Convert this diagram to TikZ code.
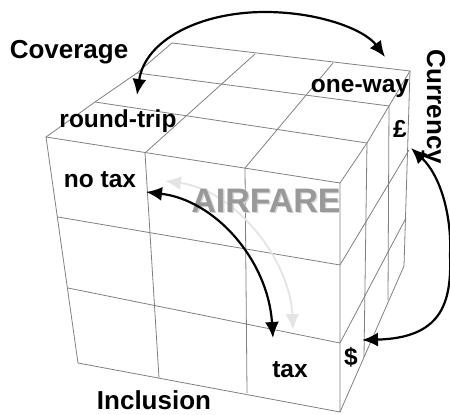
\documentclass[tikz,border=0pt]{standalone}
\usepackage{fontspec}
\setmainfont{Liberation Sans}
\usetikzlibrary{arrows.meta}
\definecolor{gridc}{HTML}{808080}
\definecolor{airc}{HTML}{999999}
\definecolor{airsh}{HTML}{D4D4D4}
\definecolor{lightarr}{HTML}{E4E4E4}
\tikzset{
  grid/.style={draw=gridc, line width=0.8pt},
  arr/.style={line width=2.2pt, {Latex[length=16pt,width=14pt]}-{Latex[length=16pt,width=14pt]}},
  biglab/.style={font=\bfseries\fontsize{26}{28}\selectfont, inner sep=0pt, anchor=base},
  cubelab/.style={font=\bfseries\fontsize{24.5}{26}\selectfont, inner sep=0pt, anchor=base},
  airlab/.style={font=\bfseries\fontsize{34}{36}\selectfont, inner sep=0pt, anchor=base}
}
\begin{document}
\begin{tikzpicture}[x=1pt,y=-1pt]
\useasboundingbox (0,0) rectangle (450,415);
% ---- front face
\coordinate (F00) at (46,137);  \coordinate (F03) at (340,183);
\coordinate (F10) at (58,217);  \coordinate (F13) at (340,265);
\coordinate (F20) at (68,288);  \coordinate (F23) at (340,343);
\coordinate (F30) at (78,363);  \coordinate (F33) at (340,412);
\coordinate (F01) at (145,153); \coordinate (F31) at (159,378);
\coordinate (F02) at (245,168); \coordinate (F32) at (247,393);
\draw[grid] (F00) -- (F03) -- (F33) -- (F30) -- cycle;
\draw[grid] (F10) -- (F13);
\draw[grid] (F20) -- (F23);
\draw[grid] (F01) -- (F31);
\draw[grid] (F02) -- (F32);
% ---- top face
\coordinate (T1L) at (95,102);  \coordinate (T1R) at (367,143);
\coordinate (T2L) at (137,73);  \coordinate (T2R) at (389,106);
\coordinate (T3L) at (172,43);  \coordinate (T3R) at (410,71);
\coordinate (T31) at (255,54);  \coordinate (T32) at (333,63);
\draw[grid] (F00) -- (T1L) -- (T2L) -- (T3L) -- (T3R) -- (T2R) -- (T1R) -- (F03);
\draw[grid] (T1L) -- (T1R);
\draw[grid] (T2L) -- (T2R);
\draw[grid] (F01) -- (T31);
\draw[grid] (F02) -- (T32);
% ---- right face
\coordinate (RBB) at (404,266);
\coordinate (RC1) at (364,357); \coordinate (RC2) at (388,300);
\coordinate (RR1) at (409,150); \coordinate (RR2) at (406,218);
\draw[grid] (T3R) -- (RBB) -- (F33);
\draw[grid] (T1R) -- (RC1);
\draw[grid] (T2R) -- (RC2);
\draw[grid] (F13) -- (RR1);
\draw[grid] (F23) -- (RR2);
% ---- light arrow (behind the title)
\coordinate (a4s) at (165,181); \coordinate (a4e) at (293,330);
\draw[arr, draw=lightarr, line width=1.8pt] (a4s) .. controls (235,190) and (290,260) .. (a4e);
% ---- title
\node[airlab, text=airsh] (airs) at (267.5,213.5) {AIRFARE};
\node[airlab, text=airc] (air) at (266,212) {AIRFARE};
% ---- labels
\node[biglab] (cov) at (69,58) {Coverage};
\node[biglab, rotate=-90] (cur) at (427,107) {Currency};
\node[biglab] (inc) at (154,409) {Inclusion};
\node[cubelab] (ow) at (360,92) {one-way};
\node[cubelab] (rt) at (118,127) {round-trip};
\node[cubelab] (nt) at (100,187) {no tax};
\node[cubelab] (tx) at (290,377) {tax};
\node[cubelab] (pd) at (400,137) {£};
\node[cubelab] (dl) at (351,365) {\$};
% ---- arrows
\coordinate (a1s) at (137,95);  \coordinate (a1m) at (265,12); \coordinate (a1e) at (385,57);
\coordinate (a2s) at (411,148); \coordinate (a2m) at (450,255); \coordinate (a2e) at (362,340);
\coordinate (a3s) at (146,192); \coordinate (a3e) at (273,338);
\draw[arr] (a1s) .. controls (145,40) and (200,12) .. (a1m) .. controls (320,12) and (365,30) .. (a1e);
\draw[arr] (a2s) .. controls (440,175) and (452,215) .. (a2m) .. controls (452,305) and (440,338) .. (a2e);
\draw[arr] (a3s) .. controls (215,200) and (268,260) .. (a3e);
\end{tikzpicture}
\end{document}
